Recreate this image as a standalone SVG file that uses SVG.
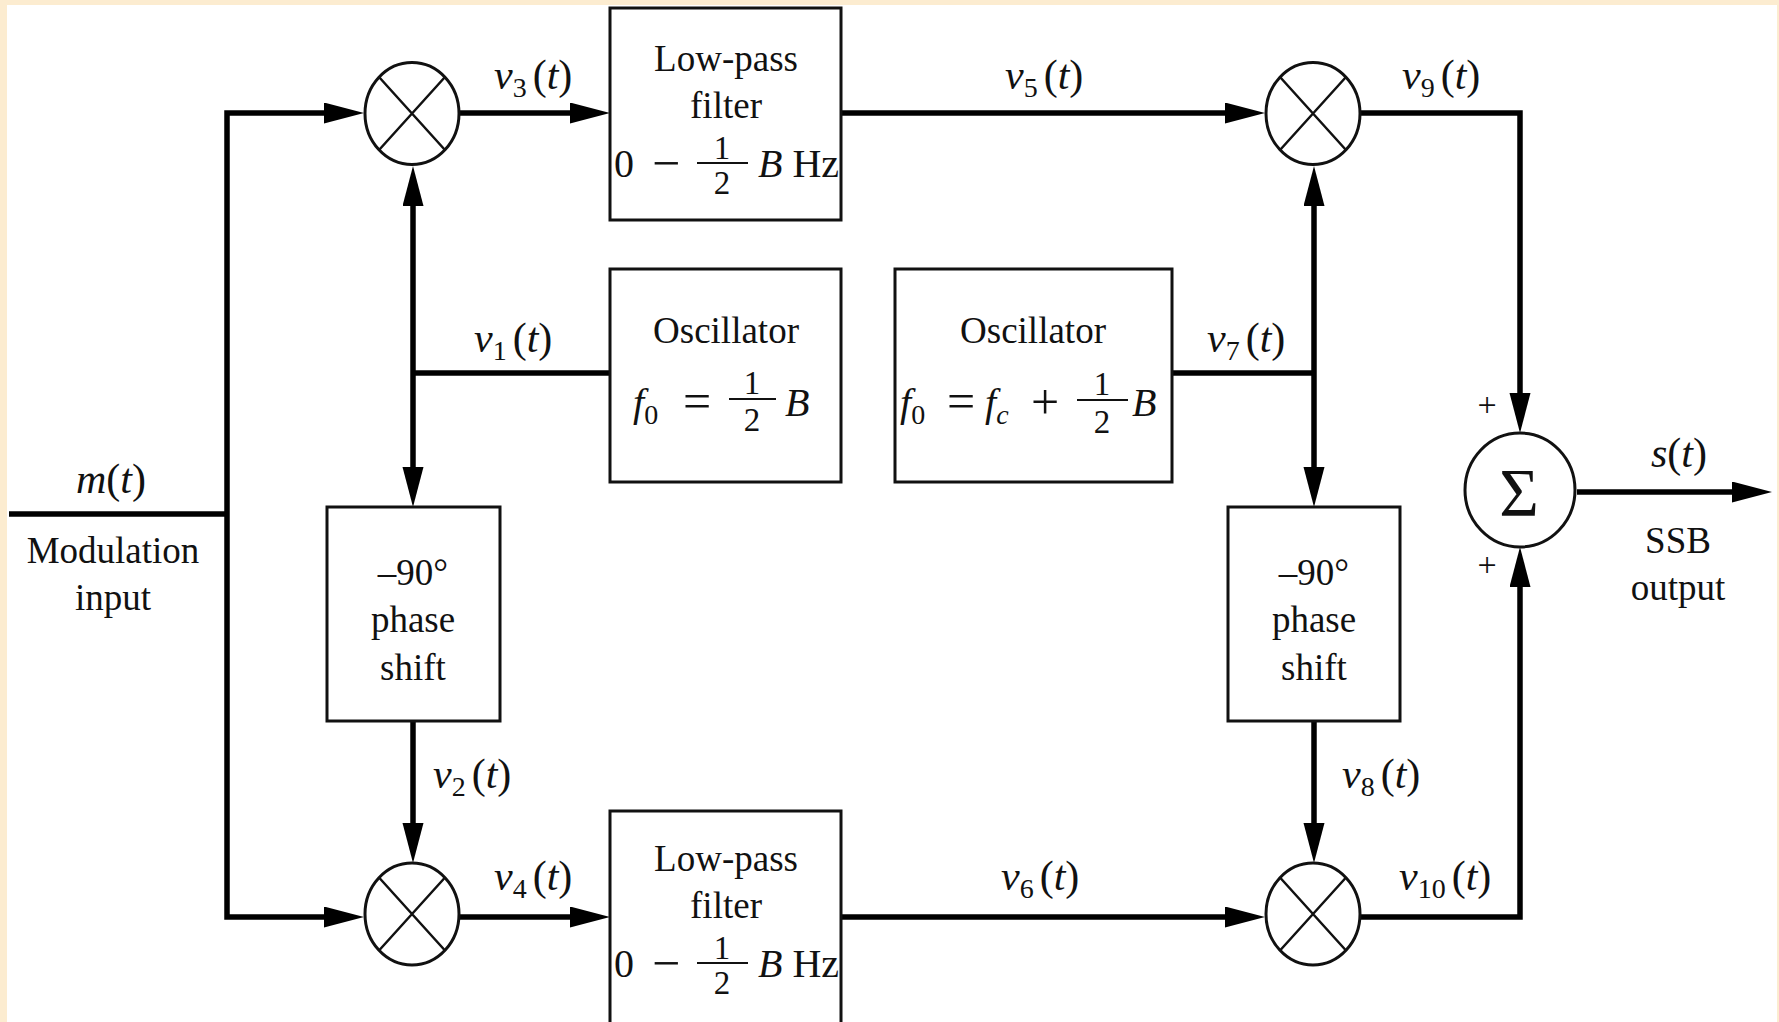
<svg xmlns="http://www.w3.org/2000/svg" width="1779" height="1022" viewBox="0 0 1779 1022">
<defs>
<style>
.bg{fill:#fcecd0}
.paper{fill:#ffffff}
.box{fill:#ffffff;stroke:#111;stroke-width:3}
.mix{fill:#ffffff;stroke:#111;stroke-width:3}
.xl{stroke:#111;stroke-width:2.5;fill:none}
.wire{stroke:#000;stroke-width:5.5;fill:none}
.bar{stroke:#111;stroke-width:2.2}
text{font-family:"Liberation Serif","Times New Roman",serif;fill:#111}
.t{font-size:37px;text-anchor:middle}
.lab{font-size:42px}
.i{font-style:italic}
.sub{font-size:28px}
.fr{font-size:33px;text-anchor:middle}
.op{font-size:50px;text-anchor:middle}
.m{font-size:40px}
.pl{font-size:34px;text-anchor:middle}
</style>
<marker id="ah" markerUnits="userSpaceOnUse" markerWidth="42" markerHeight="22" refX="20" refY="10.5" orient="auto-start-reverse" viewBox="0 0 42 22">
<path d="M0,0 L40,10.5 L0,21 z" fill="#000"/>
</marker>
</defs>
<rect class="bg" x="0" y="0" width="1779" height="1022"/>
<rect class="paper" x="7" y="5" width="1770" height="1017"/>

<g id="connectors">
<path class="wire" d="M9,514 H227"/>
<path class="wire" d="M344,113 H227 V917 H344" marker-start="url(#ah)" marker-end="url(#ah)"/>
<path class="wire" d="M459,113 H590" marker-end="url(#ah)"/>
<path class="wire" d="M841,113 H1245" marker-end="url(#ah)"/>
<path class="wire" d="M1361,113 H1520 V413" marker-end="url(#ah)"/>
<path class="wire" d="M610,373 H413"/>
<path class="wire" d="M413,186 V487" marker-start="url(#ah)" marker-end="url(#ah)"/>
<path class="wire" d="M413,721 V843" marker-end="url(#ah)"/>
<path class="wire" d="M459,917 H590" marker-end="url(#ah)"/>
<path class="wire" d="M841,917 H1245" marker-end="url(#ah)"/>
<path class="wire" d="M1361,917 H1520 V567" marker-end="url(#ah)"/>
<path class="wire" d="M1172,373 H1314"/>
<path class="wire" d="M1314,186 V487" marker-start="url(#ah)" marker-end="url(#ah)"/>
<path class="wire" d="M1314,721 V843" marker-end="url(#ah)"/>
<path class="wire" d="M1577,492 H1752" marker-end="url(#ah)"/>
</g>

<g id="labels">
<text class="lab" x="494" y="89"><tspan class="i">v</tspan><tspan class="sub" dy="8">3</tspan><tspan dx="6" dy="-8">(</tspan><tspan class="i">t</tspan>)</text>
<text class="lab" x="1005" y="89"><tspan class="i">v</tspan><tspan class="sub" dy="8">5</tspan><tspan dx="6" dy="-8">(</tspan><tspan class="i">t</tspan>)</text>
<text class="lab" x="1402" y="89"><tspan class="i">v</tspan><tspan class="sub" dy="8">9</tspan><tspan dx="6" dy="-8">(</tspan><tspan class="i">t</tspan>)</text>
<text class="lab" x="474" y="352"><tspan class="i">v</tspan><tspan class="sub" dy="8">1</tspan><tspan dx="6" dy="-8">(</tspan><tspan class="i">t</tspan>)</text>
<text class="lab" x="1207" y="352"><tspan class="i">v</tspan><tspan class="sub" dy="8">7</tspan><tspan dx="6" dy="-8">(</tspan><tspan class="i">t</tspan>)</text>
<text class="lab" x="433" y="788"><tspan class="i">v</tspan><tspan class="sub" dy="8">2</tspan><tspan dx="6" dy="-8">(</tspan><tspan class="i">t</tspan>)</text>
<text class="lab" x="1342" y="788"><tspan class="i">v</tspan><tspan class="sub" dy="8">8</tspan><tspan dx="6" dy="-8">(</tspan><tspan class="i">t</tspan>)</text>
<text class="lab" x="494" y="890"><tspan class="i">v</tspan><tspan class="sub" dy="8">4</tspan><tspan dx="6" dy="-8">(</tspan><tspan class="i">t</tspan>)</text>
<text class="lab" x="1001" y="890"><tspan class="i">v</tspan><tspan class="sub" dy="8">6</tspan><tspan dx="6" dy="-8">(</tspan><tspan class="i">t</tspan>)</text>
<text class="lab" x="1399" y="890"><tspan class="i">v</tspan><tspan class="sub" dy="8">10</tspan><tspan dx="6" dy="-8">(</tspan><tspan class="i">t</tspan>)</text>
<text class="lab" x="76" y="493"><tspan class="i">m</tspan>(<tspan class="i">t</tspan>)</text>
<text class="t" x="113" y="563">Modulation</text>
<text class="t" x="113" y="610">input</text>
<text class="lab" x="1651" y="467"><tspan class="i">s</tspan>(<tspan class="i">t</tspan>)</text>
<text class="t" x="1678" y="553">SSB</text>
<text class="t" x="1678" y="600">output</text>
<text class="pl" x="1487" y="416">+</text>
<text class="pl" x="1487" y="576">+</text>
</g>

<g id="mixer-1">
<ellipse class="mix" cx="412" cy="113.5" rx="47" ry="51"/>
<path class="xl" d="M379,77 L445,150 M445,77 L379,150"/>
</g>
<g id="mixer-2">
<ellipse class="mix" cx="412" cy="914" rx="47" ry="51"/>
<path class="xl" d="M379,877.5 L445,950.5 M445,877.5 L379,950.5"/>
</g>
<g id="mixer-3">
<ellipse class="mix" cx="1313" cy="113.5" rx="47" ry="51"/>
<path class="xl" d="M1280,77 L1346,150 M1346,77 L1280,150"/>
</g>
<g id="mixer-4">
<ellipse class="mix" cx="1313" cy="914" rx="47" ry="51"/>
<path class="xl" d="M1280,877.5 L1346,950.5 M1346,877.5 L1280,950.5"/>
</g>

<g id="sum">
<ellipse class="mix" cx="1520" cy="490" rx="55" ry="57"/>
<text x="1519" y="515" style="font-size:68px;text-anchor:middle">Σ</text>
</g>

<g id="lpf-1">
<rect class="box" x="610" y="8" width="231" height="212"/>
<text class="t" x="726" y="71">Low-pass</text>
<text class="t" x="726" y="118">filter</text>
<text class="m" x="614" y="177">0</text>
<text class="op" x="666" y="180">−</text>
<line class="bar" x1="697" y1="163" x2="748" y2="163"/>
<text class="fr" x="722" y="159">1</text>
<text class="fr" x="722" y="194">2</text>
<text class="m" x="758" y="177"><tspan class="i">B</tspan> Hz</text>
</g>

<g id="lpf-2">
<rect class="box" x="610" y="811" width="231" height="230"/>
<text class="t" x="726" y="871">Low-pass</text>
<text class="t" x="726" y="918">filter</text>
<text class="m" x="614" y="977">0</text>
<text class="op" x="666" y="980">−</text>
<line class="bar" x1="697" y1="963" x2="748" y2="963"/>
<text class="fr" x="722" y="959">1</text>
<text class="fr" x="722" y="994">2</text>
<text class="m" x="758" y="977"><tspan class="i">B</tspan> Hz</text>
</g>

<g id="osc-1">
<rect class="box" x="610" y="269" width="231" height="213"/>
<text class="t" x="726" y="343">Oscillator</text>
<text class="m" x="633" y="416"><tspan class="i">f</tspan><tspan class="sub" dy="8">0</tspan></text>
<text class="op" x="697" y="418">=</text>
<line class="bar" x1="729" y1="399" x2="776" y2="399"/>
<text class="fr" x="752" y="394">1</text>
<text class="fr" x="752" y="431">2</text>
<text class="m i" x="785" y="416">B</text>
</g>

<g id="osc-2">
<rect class="box" x="895" y="269" width="277" height="213"/>
<text class="t" x="1033" y="343">Oscillator</text>
<text class="m" x="900" y="416"><tspan class="i">f</tspan><tspan class="sub" dy="8">0</tspan></text>
<text class="op" x="961" y="418">=</text>
<text class="m" x="985" y="416"><tspan class="i">f</tspan><tspan class="sub i" dy="8">c</tspan></text>
<text class="op" x="1045" y="419">+</text>
<line class="bar" x1="1077" y1="400" x2="1128" y2="400"/>
<text class="fr" x="1102" y="395">1</text>
<text class="fr" x="1102" y="433">2</text>
<text class="m i" x="1132" y="416">B</text>
</g>

<g id="phase-1">
<rect class="box" x="327" y="507" width="173" height="214"/>
<text class="t" x="413" y="585">–90°</text>
<text class="t" x="413" y="632">phase</text>
<text class="t" x="413" y="680">shift</text>
</g>

<g id="phase-2">
<rect class="box" x="1228" y="507" width="172" height="214"/>
<text class="t" x="1314" y="585">–90°</text>
<text class="t" x="1314" y="632">phase</text>
<text class="t" x="1314" y="680">shift</text>
</g>
</svg>
